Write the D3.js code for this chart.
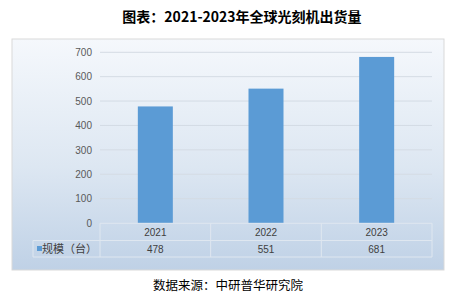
<!DOCTYPE html>
<html>
<head>
<meta charset="utf-8">
<script src="https://cdn.jsdelivr.net/npm/d3@7"></script>
<style>
  body { margin: 0; background: #fff; }
  svg { display: block; }
</style>
</head>
<body>
<svg id="chart"></svg>
<script>
const years = ["2021", "2022", "2023"];
const shipments = [478, 551, 681];
const yTicks = [0, 100, 200, 300, 400, 500, 600, 700];
const seriesName = "规模（台）";
const titleText = "图表：2021-2023年全球光刻机出货量";
const sourceText = "数据来源：中研普华研究院";

const width = 458;
const height = 297;
const plot = { left: 100, right: 432, top: 52.3, bottom: 223 };

const svg = d3.select("#chart").attr("width", width).attr("height", height);

// background gradient for panel
const defs = svg.append("defs");
const grad = defs.append("linearGradient")
  .attr("id", "bg").attr("x1", 0).attr("y1", 0).attr("x2", 0).attr("y2", 1);
grad.append("stop").attr("offset", "0%").attr("stop-color", "#f5f8fc");
grad.append("stop").attr("offset", "55%").attr("stop-color", "#dde7f2");
grad.append("stop").attr("offset", "100%").attr("stop-color", "#bfd1e6");

// title
svg.append("text")
  .attr("x", 242).attr("y", 22)
  .attr("text-anchor", "middle")
  .style("font-family", "'Noto Sans CJK SC', sans-serif")
  .style("font-weight", "bold")
  .style("font-size", "14px")
  .style("fill", "#000")
  .text(titleText);

// panel
svg.append("rect")
  .attr("x", 12).attr("y", 39).attr("width", 432).attr("height", 231)
  .attr("fill", "url(#bg)")
  .attr("stroke", "#d9d9d9").attr("stroke-width", 1);

const x = d3.scaleBand()
  .domain(years)
  .range([plot.left, plot.right]);

const y = d3.scaleLinear()
  .domain([0, 700])
  .range([plot.bottom, plot.top]);

// gridlines
svg.append("g")
  .selectAll("line")
  .data(yTicks.filter(d => d > 0))
  .join("line")
  .attr("x1", plot.left).attr("x2", plot.right)
  .attr("y1", d => y(d)).attr("y2", d => y(d))
  .attr("stroke", "#d4dbe4").attr("stroke-width", 1);

// y axis labels
const yAxis = d3.axisLeft(y).tickValues(yTicks).tickSize(0).tickPadding(0);
const yg = svg.append("g")
  .attr("transform", `translate(92,0)`)
  .call(yAxis);
yg.select(".domain").remove();
yg.selectAll("text")
  .style("font-family", "Arial, 'Liberation Sans', sans-serif")
  .style("font-size", "10px")
  .style("fill", "#595959");

// bars
const barW = 35;
svg.append("g")
  .selectAll("rect")
  .data(shipments)
  .join("rect")
  .attr("x", (d, i) => x(years[i]) + x.bandwidth() / 2 - barW / 2)
  .attr("y", d => y(d))
  .attr("width", barW)
  .attr("height", d => y(0) - y(d))
  .attr("fill", "#5b9bd5");

// data table
const rowTop = 223.3, rowMid = 240.5, rowBot = 257;
const table = svg.append("g")
  .attr("stroke", "#dfe7f0").attr("stroke-width", 1).attr("fill", "none");
table.append("line").attr("x1", plot.left).attr("x2", plot.right).attr("y1", rowTop).attr("y2", rowTop);
table.append("line").attr("x1", 33).attr("x2", plot.right).attr("y1", rowMid).attr("y2", rowMid);
table.append("line").attr("x1", 33).attr("x2", plot.right).attr("y1", rowBot).attr("y2", rowBot);
table.append("line").attr("x1", 33).attr("x2", 33).attr("y1", rowMid).attr("y2", rowBot);
table.selectAll(".v")
  .data(years.map(d => x(d)).concat([plot.right]))
  .join("line")
  .attr("x1", d => d).attr("x2", d => d)
  .attr("y1", rowTop).attr("y2", rowBot);

const cellFont = "Arial, 'Liberation Sans', sans-serif";
svg.append("g")
  .selectAll("text")
  .data(years)
  .join("text")
  .attr("x", d => x(d) + x.bandwidth() / 2)
  .attr("y", 235.5)
  .attr("text-anchor", "middle")
  .style("font-family", cellFont)
  .style("font-size", "10px")
  .style("fill", "#404040")
  .text(d => d);

svg.append("g")
  .selectAll("text")
  .data(shipments)
  .join("text")
  .attr("x", (d, i) => x(years[i]) + x.bandwidth() / 2)
  .attr("y", 252.5)
  .attr("text-anchor", "middle")
  .style("font-family", cellFont)
  .style("font-size", "10px")
  .style("fill", "#404040")
  .text(d => d);

// legend key in table
svg.append("rect")
  .attr("x", 37).attr("y", 246).attr("width", 5).attr("height", 5)
  .attr("fill", "#5b9bd5");
svg.append("text")
  .attr("x", 42).attr("y", 253)
  .style("font-family", "'Noto Sans CJK SC', sans-serif")
  .style("font-size", "11px")
  .style("fill", "#404040")
  .text(seriesName);

// source
svg.append("text")
  .attr("x", 228).attr("y", 290)
  .attr("text-anchor", "middle")
  .style("font-family", "'Noto Sans CJK SC', sans-serif")
  .style("font-size", "12.5px")
  .style("fill", "#000")
  .text(sourceText);
</script>
</body>
</html>
